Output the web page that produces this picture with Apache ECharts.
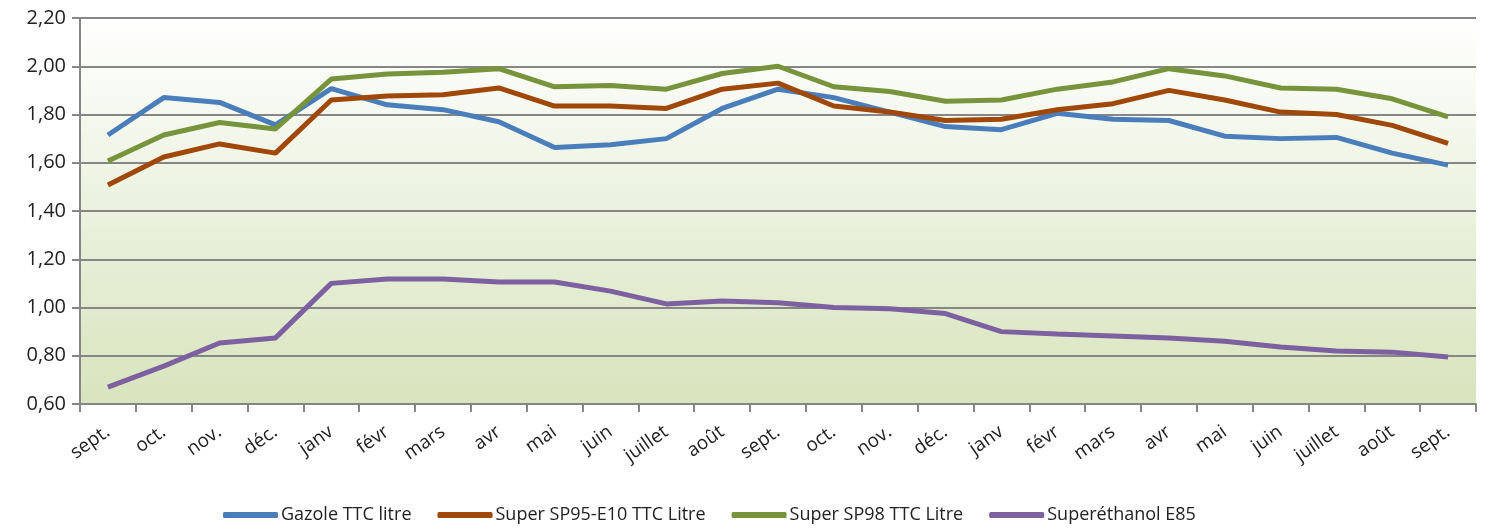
<!DOCTYPE html>
<html>
<head>
<meta charset="utf-8">
<script src="https://cdn.jsdelivr.net/npm/echarts@6/dist/echarts.min.js"></script>
<style>
html,body{margin:0;padding:0;background:#fff;}
#echarts{width:1486px;height:529px;}
</style>
</head>
<body>
<div id="echarts"></div>
<script>
var months = ['sept.','oct.','nov.','déc.','janv','févr','mars','avr','mai','juin','juillet','août',
  'sept.','oct.','nov.','déc.','janv','févr','mars','avr','mai','juin','juillet','août','sept.'];
var gazole = [1.715,1.87,1.85,1.757,1.907,1.84,1.82,1.77,1.663,1.675,1.70,1.825,
  1.905,1.87,1.81,1.75,1.737,1.805,1.78,1.775,1.71,1.70,1.705,1.64,1.59];
var sp95 = [1.508,1.624,1.678,1.64,1.86,1.877,1.882,1.91,1.835,1.835,1.825,1.905,
  1.93,1.835,1.81,1.775,1.78,1.82,1.845,1.90,1.86,1.81,1.80,1.755,1.68];
var sp98 = [1.607,1.715,1.767,1.74,1.947,1.968,1.975,1.99,1.915,1.92,1.905,1.97,
  2.00,1.915,1.895,1.855,1.86,1.905,1.935,1.99,1.96,1.91,1.905,1.865,1.79];
var e85 = [0.67,0.757,0.853,0.874,1.10,1.118,1.118,1.106,1.106,1.068,1.015,1.027,
  1.02,1.00,0.995,0.975,0.90,0.89,0.882,0.874,0.86,0.836,0.82,0.815,0.795];
var seriesNames = ['Gazole TTC litre','Super SP95-E10 TTC Litre','Super SP98 TTC Litre','Superéthanol E85'];
var colors = ['#4a7ebb','#a0470a','#77933c','#7d60a0'];

var chart = echarts.init(document.getElementById('echarts'));
var font = 'Open Sans';
function line(i, data){
  return {
    name: seriesNames[i],
    type: 'line',
    data: data,
    symbol: 'none',
    lineStyle: {width: 5, color: colors[i]},
    itemStyle: {color: colors[i]}
  };
}
chart.setOption({
  animation: false,
  color: colors,
  grid: {
    left: 80, right: 10, top: 18, bottom: 125,
    show: true,
    borderWidth: 0,
    backgroundColor: new echarts.graphic.LinearGradient(0, 0, 0, 1, [
      {offset: 0, color: '#ffffff'},
      {offset: 1, color: '#d7e4bd'}
    ])
  },
  legend: {
    data: seriesNames,
    bottom: 0,
    left: 218,
    itemWidth: 55,
    itemHeight: 6,
    itemGap: 26,
    icon: 'roundRect',
    textStyle: {fontFamily: font, fontSize: 18, color: '#222', padding: [0, 0, 0, -2]}
  },
  xAxis: {
    type: 'category',
    data: months,
    boundaryGap: true,
    axisLine: {lineStyle: {color: '#868686', width: 2}},
    axisTick: {show: true, length: 8, lineStyle: {color: '#868686', width: 2}},
    axisLabel: {rotate: 35, fontFamily: font, fontSize: 19, color: '#222', margin: 26, interval: 0}
  },
  yAxis: {
    type: 'value',
    min: 0.6,
    max: 2.2,
    interval: 0.2,
    axisLine: {show: true, lineStyle: {color: '#868686', width: 2}},
    axisTick: {show: true, length: 8, lineStyle: {color: '#868686', width: 2}},
    splitLine: {lineStyle: {color: '#868686', width: 2}},
    axisLabel: {
      fontFamily: font, fontSize: 20, color: '#222', margin: 14,
      formatter: function(v){ return v.toFixed(2).replace('.', ','); }
    }
  },
  series: [line(0, gazole), line(1, sp95), line(2, sp98), line(3, e85)]
});
</script>
</body>
</html>
